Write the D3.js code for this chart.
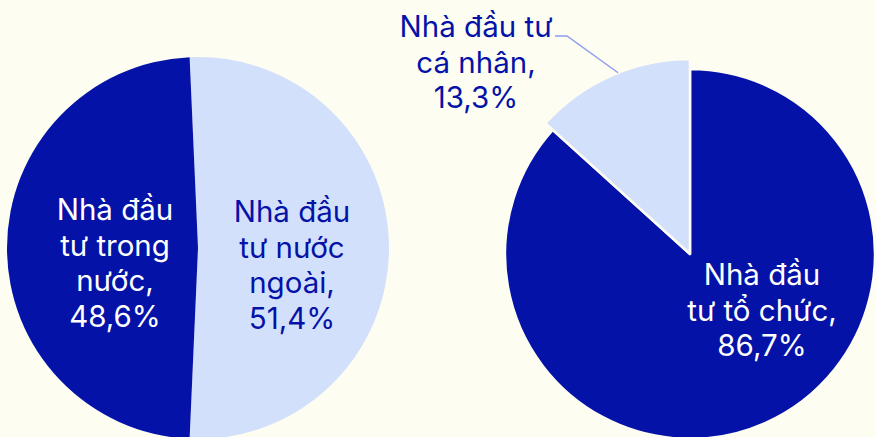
<!DOCTYPE html>
<html>
<head>
<meta charset="utf-8">
<script src="https://cdn.jsdelivr.net/npm/d3@7/dist/d3.min.js"></script>
<style>
  html, body { margin: 0; padding: 0; background: #fdfdf1; }
  svg { display: block; }
  text { font-family: Inter, "Noto Sans", sans-serif; }
</style>
</head>
<body>
<div id="chart"></div>
<script>
// left pie: domestic vs foreign investors
var leftNames = ["Nhà đầu tư nước ngoài", "Nhà đầu tư trong nước"];
var leftValues = [51.4, 48.6];
var leftLines = [["Nhà đầu", "tư nước", "ngoài,", "51,4%"], ["Nhà đầu", "tư trong", "nước,", "48,6%"]];

// right pie: institutional vs individual
var rightNames = ["Nhà đầu tư tổ chức", "Nhà đầu tư cá nhân"];
var rightValues = [86.7, 13.3];
var rightLines = [["Nhà đầu", "tư tổ chức,", "86,7%"], ["Nhà đầu tư", "cá nhân,", "13,3%"]];

var W = 876, H = 437;
var dark = "#0412a8", light = "#d3e0fc";
var lineH = 35.5;

var svg = d3.select("#chart").append("svg").attr("width", W).attr("height", H);
svg.append("rect").attr("width", W).attr("height", H).attr("fill", "#fdfdf1");

function multiline(g, x, yFirst, lines, color) {
  var t = g.append("text")
    .attr("text-anchor", "middle")
    .attr("font-size", "29.5px")
    .attr("fill", color);
  lines.forEach(function(s, i) {
    t.append("tspan").attr("x", x).attr("y", yFirst + i * lineH).text(s);
  });
}

// ---- left pie
var lcx = 198, lcy = 248, lr = 191;
var shift = (leftValues[0] / d3.sum(leftValues) - 0.5) * Math.PI; // centre the right slice
var pieL = d3.pie().sort(null).value(function(d) { return d; })
  .startAngle(-shift).endAngle(2 * Math.PI - shift);
var arcL = d3.arc().innerRadius(0).outerRadius(lr);

var gL = svg.append("g").attr("transform", "translate(" + lcx + "," + lcy + ")");
gL.selectAll("path")
  .data(pieL(leftValues))
  .enter().append("path")
  .attr("d", arcL)
  .attr("fill", function(d, i) { return i == 0 ? light : dark; });

multiline(gL, 94, 222 - lcy, leftLines[0], dark);
multiline(gL, -83, 220 - lcy, leftLines[1], "#ffffff");

// ---- right pie (small slice drawn with a bigger radius)
var rcx = 690, rcy = 254, rr = 185, rBig = 195;
var pieR = d3.pie().sort(null).value(function(d) { return d; });
var arcR = d3.arc().innerRadius(0)
  .outerRadius(function(d) { return d.index == 1 ? rBig : rr; });

var gR = svg.append("g").attr("transform", "translate(" + rcx + "," + rcy + ")");
var arcsR = pieR(rightValues);
gR.selectAll("path")
  .data(arcsR)
  .enter().append("path")
  .attr("d", arcR)
  .attr("fill", function(d, i) { return i == 0 ? dark : light; })
  .attr("stroke", "#fdfdf1")
  .attr("stroke-width", 2.5)
  .attr("stroke-linejoin", "round");

multiline(gR, 72, 285 - rcy, rightLines[0], "#ffffff");

// outside label + leader for the small slice
var s = arcsR[1];
var mid = (s.startAngle + s.endAngle) / 2 + 0.04;
var p0 = [Math.sin(mid) * rBig, -Math.cos(mid) * rBig];
var p1 = [567 - rcx, 36 - rcy], p2 = [555 - rcx, 36 - rcy];
gR.append("path")
  .attr("d", d3.line()([p0, p1, p2]))
  .attr("fill", "none")
  .attr("stroke", "#8d9df4")
  .attr("stroke-width", 1.5);

multiline(gR, 476 - rcx, 37 - rcy, rightLines[1], dark);
</script>
</body>
</html>
